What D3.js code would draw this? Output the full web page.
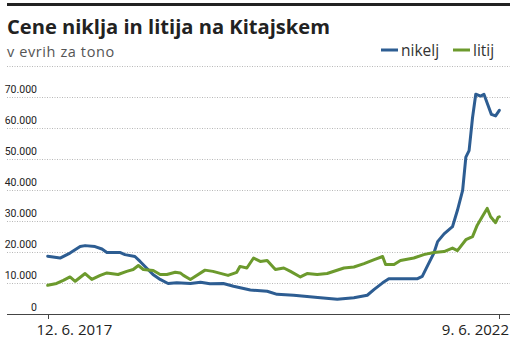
<!DOCTYPE html>
<html><head><meta charset="utf-8">
<script src="https://cdn.jsdelivr.net/npm/d3@7"></script>
<style>
html,body{margin:0;padding:0;background:#fff;}
svg{display:block;}
</style></head>
<body>
<svg id="c" width="517" height="340"></svg>
<script>
const title = "Cene niklja in litija na Kitajskem";
const subtitle = "v evrih za tono";
const seriesNames = ["nikelj", "litij"];
const seriesColors = ["#2d5d92", "#6c9a2d"];

const nickelDates = ["2017-06-12","2017-08-01","2017-09-10","2017-10-21","2017-11-10","2017-12-20","2018-01-17","2018-02-06","2018-03-30","2018-04-20","2018-05-30","2018-06-20","2018-07-16","2018-08-11","2018-09-09","2018-10-11","2018-11-15","2019-01-09","2019-02-19","2019-03-29","2019-05-22","2019-07-02","2019-09-08","2019-11-15","2019-12-25","2020-03-01","2020-04-24","2020-06-17","2020-08-24","2020-10-30","2020-12-23","2021-01-20","2021-02-23","2021-03-20","2021-05-06","2021-07-12","2021-08-02","2021-08-22","2021-09-18","2021-10-03","2021-10-29","2021-12-02","2021-12-22","2022-01-12","2022-01-25","2022-02-07","2022-02-21","2022-03-06","2022-03-26","2022-04-08","2022-04-21","2022-05-08","2022-05-25","2022-06-09"];
const nickelValues = [18800,18200,19800,21900,22200,21900,21100,20000,20000,19300,18700,17100,15000,12900,11300,10000,10200,10000,10400,9900,10000,9100,7900,7500,6500,6200,5800,5400,4900,5400,6200,8100,10200,11500,11500,11500,12300,15500,19800,23500,26000,28300,33600,40000,50700,52800,63500,71000,70400,71000,68200,64500,64000,65800];

const lithiumDates = ["2017-06-12","2017-07-18","2017-08-14","2017-09-10","2017-10-01","2017-11-10","2017-12-07","2018-01-10","2018-02-06","2018-03-23","2018-04-27","2018-05-23","2018-06-13","2018-07-03","2018-08-12","2018-09-09","2018-10-06","2018-11-09","2018-11-29","2018-12-12","2019-01-09","2019-03-09","2019-04-10","2019-06-10","2019-07-15","2019-07-28","2019-08-25","2019-09-21","2019-10-18","2019-11-15","2019-12-18","2020-01-21","2020-02-17","2020-03-28","2020-04-24","2020-06-04","2020-07-14","2020-09-20","2020-10-30","2020-12-10","2021-01-20","2021-02-23","2021-03-07","2021-04-10","2021-05-06","2021-06-29","2021-08-08","2021-09-18","2021-10-29","2021-12-02","2021-12-22","2022-01-25","2022-02-21","2022-03-12","2022-04-01","2022-04-21","2022-05-05","2022-05-25","2022-06-04","2022-06-09"];
const lithiumValues = [9400,10000,11000,12100,10700,13200,11300,12600,13400,12900,13900,14500,15800,14500,14200,12900,12900,13600,13400,12600,11300,14300,13900,12600,13600,15500,15000,18200,17100,17400,14500,15000,13900,12100,13200,12900,13200,15000,15300,16400,17700,18700,16100,16100,17400,18200,19300,20000,20300,21400,20600,24100,25100,28800,31500,34200,31500,29600,31300,31500];

const yTicks = [0,10000,20000,30000,40000,50000,60000,70000,80000];
const yTickLabels = ["0","10.000","20.000","30.000","40.000","50.000","60.000","70.000",""];
const xTickDates = ["2017-06-12","2022-06-09"];
const xTickLabels = ["12. 6. 2017","9. 6. 2022"];

const parse = d3.timeParse("%Y-%m-%d");
const svg = d3.select("#c");
const left = 7, right = 510;

// header
svg.append("rect").attr("x", left).attr("y", 3).attr("width", right-left).attr("height", 3).attr("fill", "#222");
const t = svg.append("text").attr("x", left).attr("y", 34)
  .attr("font-family", "'Open Sans', sans-serif").attr("font-weight", 700)
  .attr("font-size", 21).attr("fill", "#222").text(title);
(function fit(){ const w = t.node().getComputedTextLength(); t.attr("font-size", 21*323/w); })();
svg.append("text").attr("x", left).attr("y", 57)
  .attr("font-family", "'Open Sans', sans-serif")
  .attr("font-size", 14.5).attr("letter-spacing", 0.6).attr("fill", "#555").text(subtitle);

// legend
const legendX = [381, 453];
seriesNames.forEach((n,i)=>{
  svg.append("line").attr("x1", legendX[i]).attr("x2", legendX[i]+17).attr("y1", 50).attr("y2", 50)
    .attr("stroke", seriesColors[i]).attr("stroke-width", 3);
  svg.append("text").attr("x", legendX[i]+20).attr("y", 56)
    .attr("font-family", "'Open Sans', sans-serif").attr("font-size", 15.5).attr("fill", "#333").text(n);
});

// scales
const x = d3.scaleTime().domain([parse(xTickDates[0]), parse(xTickDates[1])]).range([47.7, 499.3]);
const y = d3.scaleLinear().domain([0, 80000]).range([314.5, 66.3]);

// gridlines
const grid = svg.append("g");
yTicks.filter(v=>v>0).forEach(v=>{
  grid.append("line").attr("x1", left).attr("x2", right).attr("y1", Math.round(y(v))+0.5).attr("y2", Math.round(y(v))+0.5)
    .attr("stroke", "#b8b8b8").attr("stroke-width", 1).attr("stroke-dasharray", "1,1.5");
});
// y labels
yTicks.forEach((v,i)=>{
  if (!yTickLabels[i]) return;
  svg.append("text").attr("x", 37).attr("y", y(v) - 4).attr("text-anchor", "end")
    .attr("font-family", "Roboto, sans-serif").attr("font-size", 10.5).attr("fill", "#222").text(yTickLabels[i]);
});

// lines
const line = d3.line().x(d=>x(d[0])).y(d=>y(d[1])).curve(d3.curveLinear);
const nickel = nickelDates.map((d,i)=>[parse(d), nickelValues[i]]);
const lithium = lithiumDates.map((d,i)=>[parse(d), lithiumValues[i]]);
[nickel, lithium].forEach((s,i)=>{
  svg.append("path").datum(s).attr("d", line).attr("fill","none")
    .attr("stroke", seriesColors[i]).attr("stroke-width", 3).attr("stroke-linejoin","round").attr("stroke-linecap","round");
});

// x axis
svg.append("line").attr("x1", left).attr("x2", right).attr("y1", 314.5).attr("y2", 314.5).attr("stroke", "#444").attr("stroke-width", 1);
xTickDates.forEach((d,i)=>{
  const xx = Math.round(x(parse(d)))+0.5;
  svg.append("line").attr("x1", xx).attr("x2", xx).attr("y1", 314.5).attr("y2", 319).attr("stroke", "#444");
  const tx = svg.append("text").attr("y", 335)
    .attr("font-family", "'Open Sans', sans-serif").attr("font-size", 15).attr("fill", "#222").text(xTickLabels[i]);
  if (i === 0) tx.attr("x", xx - 12).attr("text-anchor", "start");
  else tx.attr("x", right - 1).attr("text-anchor", "end");
});
</script>
</body></html>
